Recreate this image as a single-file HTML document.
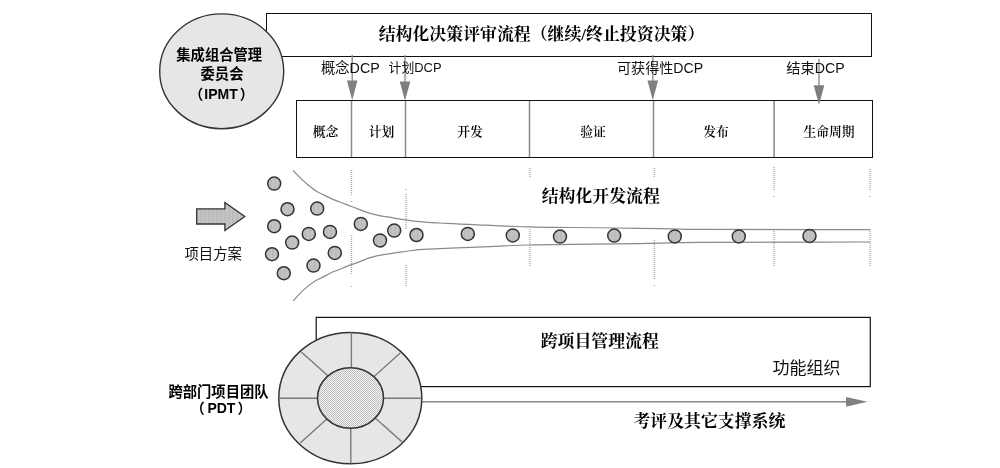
<!DOCTYPE html>
<html lang="zh-CN">
<head>
<meta charset="utf-8">
<title>IPD 流程</title>
<style>
html,body{margin:0;padding:0;background:#fff;}
body{width:1000px;height:468px;overflow:hidden;position:relative;}
svg{position:absolute;left:0;top:0;display:block;}
svg{will-change:transform;}
.bs{font-family:"Liberation Serif","Noto Serif CJK SC",serif;font-weight:bold;fill:#000;}
.bl{font-family:"Liberation Sans","Noto Sans CJK SC",sans-serif;font-weight:bold;fill:#000;}
.sn{font-family:"Liberation Sans","Noto Sans CJK SC",sans-serif;fill:#111;}
.ph{font-family:"Liberation Serif","Noto Serif CJK SC",serif;fill:#000;}
</style>
</head>
<body>
<svg width="1000" height="468" viewBox="0 0 1000 468">
<defs>
  <pattern id="hatch" width="4" height="4" patternUnits="userSpaceOnUse">
    <rect width="4" height="4" fill="#c4c4c4"/>
    <rect width="2" height="4" fill="#bbbbbb"/>
  </pattern>
  <pattern id="dots" width="2" height="2" patternUnits="userSpaceOnUse">
    <rect width="2" height="2" fill="#f4f4f4"/>
    <rect width="1" height="1" fill="#c0c0c0"/>
    <rect x="1" y="1" width="1" height="1" fill="#c0c0c0"/>
  </pattern>
  <g id="ball"><circle r="6.500" fill="url(#hatch)" stroke="#333" stroke-width="1.5"/></g>
</defs>

<!-- top box -->
<rect x="266.5" y="13.5" width="605" height="43" fill="#fff" stroke="#111" stroke-width="1"/>
<text class="bs" x="541.500" y="40.200" font-size="16.900" text-anchor="middle">结构化决策评审流程（继续/终止投资决策）</text>

<!-- IPMT circle -->
<ellipse cx="221.700" cy="71.300" rx="62" ry="57.400" fill="#e6e6e6" stroke="#333" stroke-width="1.4"/>
<text class="bl" x="219.200" y="59.500" font-size="14.300" text-anchor="middle">集成组合管理</text>
<text class="bl" x="222" y="78.500" font-size="14.300" text-anchor="middle">委员会</text>
<text class="bl" x="221.500" y="99" font-size="14" text-anchor="middle">（<tspan dx="1">IPMT</tspan><tspan dx="2">）</tspan></text>

<!-- phase box -->
<rect x="296.500" y="100.500" width="576" height="57" fill="#fff" stroke="#111" stroke-width="1"/>
<g stroke="#8a8a8a" stroke-width="1.5">
  <line x1="351.500" y1="101" x2="351.500" y2="157"/>
  <line x1="405.500" y1="101" x2="405.500" y2="157"/>
  <line x1="529.500" y1="101" x2="529.500" y2="157"/>
  <line x1="653.500" y1="101" x2="653.500" y2="157"/>
  <line x1="774.100" y1="101" x2="774.100" y2="157"/>
</g>
<g class="ph" font-size="12.800" font-weight="600" text-anchor="middle">
  <text x="325.500" y="136.100">概念</text>
  <text x="381.500" y="136.100">计划</text>
  <text x="470" y="136.100">开发</text>
  <text x="593" y="136.100">验证</text>
  <text x="716" y="136.100">发布</text>
  <text x="829" y="136.100">生命周期</text>
</g>

<!-- DCP arrows -->
<g stroke="#868686" stroke-width="1.3" fill="#7f7f7f">
  <line x1="352.2" y1="55.0" x2="352.2" y2="82.6"/>
  <path d="M346.9 80.6 L357.5 80.6 L352.2 100.3 Z" stroke="none"/>
  <line x1="405.0" y1="55.0" x2="405.0" y2="82.6"/>
  <path d="M399.7 81.600 L410.3 81.600 L405.0 100.5 Z" stroke="none"/>
  <line x1="652.8" y1="55.0" x2="652.8" y2="82.6"/>
  <path d="M647.5 80.6 L658.1 80.6 L652.8 100.3 Z" stroke="none"/>
  <line x1="819.0" y1="59.0" x2="819.0" y2="86.6"/>
  <path d="M813.7 85.2 L824.3 85.2 L819.0 105.0 Z" stroke="none"/>
</g>
<g class="sn">
  <text x="321" y="73" font-size="14.300">概念DCP</text>
  <text x="388.500" y="72" font-size="12.900">计划DCP</text>
  <text x="617" y="73" font-size="14.100">可获得性DCP</text>
  <text x="786.300" y="73.400" font-size="14.200">结束DCP</text>
</g>

<!-- dotted guides -->
<g stroke="#a6a6a6" stroke-width="1.3" stroke-dasharray="1 1" fill="none">
  <path d="M351.5 170V196M351.5 201V202M351.5 235V275M351.5 286V287"/>
  <path d="M406.0 189V190M406.0 194V229M406.0 265V287"/>
  <path d="M530.0 168V177M530.0 229V267"/>
  <path d="M654.3 168V177M654.3 240V279M654.3 285V286"/>
  <path d="M774.0 167V191M774.0 196V197M774.0 229V267"/>
  <path d="M870.0 169V191M870.0 196V197M870.0 229V267"/>
</g>

<!-- funnel -->
<g stroke="#8a8a8a" stroke-width="1.2" fill="none" stroke-linejoin="round">
  <path d="M293.0 170.4 C298.3 175.5 298.3 177.3 309.0 185.7 C319.7 194.1 314.4 190.0 325.1 195.6 C335.8 201.2 330.4 198.2 341.1 202.5 C351.8 206.8 346.4 204.7 357.1 208.6 C367.8 212.5 362.5 211.3 373.2 214.2 C383.9 217.1 378.5 215.3 389.2 217.2 C399.9 219.1 394.5 218.3 405.2 219.8 C415.9 221.3 410.6 220.7 421.3 221.7 C432.9 222.8 427.5 222.3 440.0 223.0 C460.9 224.2 454.7 223.9 484.0 225.2 C513.3 226.5 498.7 226.0 528.0 226.8 C557.3 227.6 542.7 227.1 572.0 227.5 C601.3 227.9 586.7 227.6 616.0 228.0 C645.3 228.4 632.0 228.3 660.0 228.7 C686.7 229.1 673.3 229.2 700.0 229.3 C770.0 229.6 813.3 229.6 870.0 229.7"/>
  <path d="M293.0 301.1 C297.8 296.3 297.8 294.1 307.4 286.6 C318.1 278.2 313.9 281.9 325.1 275.9 C335.8 270.2 330.4 273.1 341.1 268.7 C351.8 264.3 346.4 266.5 357.1 262.6 C368.1 258.6 363.3 259.5 374.0 256.6 C384.1 253.9 379.1 255.6 389.2 253.9 C399.6 252.2 394.5 252.9 405.2 251.5 C416.4 250.0 411.3 250.4 422.9 249.4 C434.3 248.4 428.6 249.1 440.0 248.6 C460.4 247.7 454.7 248.0 484.0 246.8 C513.3 245.6 498.7 245.8 528.0 245.0 C557.3 244.2 542.7 244.8 572.0 244.4 C601.3 244.0 586.7 244.3 616.0 243.9 C645.3 243.5 632.0 243.6 660.0 243.1 C686.7 242.6 673.3 242.5 700.0 242.4 C770.0 242.0 813.3 242.1 870.0 242.0"/>
</g>
<text class="bs" x="600.800" y="202.300" font-size="16.900" text-anchor="middle">结构化开发流程</text>

<!-- block arrow -->
<path d="M196.700 208.900 H224.900 V202.400 L244.800 216.500 L224.900 230.600 V224 H196.700 Z" fill="url(#hatch)" stroke="#333" stroke-width="1.300" stroke-linejoin="miter"/>
<text class="sn" x="213.200" y="259" font-size="14.400" text-anchor="middle">项目方案</text>

<!-- balls -->
<use href="#ball" x="274.200" y="183.6"/>
<use href="#ball" x="287.500" y="209.2"/>
<use href="#ball" x="317.200" y="208.6"/>
<use href="#ball" x="274.200" y="226.2"/>
<use href="#ball" x="308.800" y="233.9"/>
<use href="#ball" x="330" y="231.9"/>
<use href="#ball" x="292.200" y="242.6"/>
<use href="#ball" x="272" y="254.2"/>
<use href="#ball" x="334.800" y="252.9"/>
<use href="#ball" x="313.500" y="265.6"/>
<use href="#ball" x="283.800" y="273.2"/>
<use href="#ball" x="360.800" y="223.9"/>
<use href="#ball" x="380" y="240.4"/>
<use href="#ball" x="394.200" y="230.6"/>
<use href="#ball" x="416.500" y="235.0"/>
<use href="#ball" x="467.800" y="233.9"/>
<use href="#ball" x="512.800" y="235.4"/>
<use href="#ball" x="560" y="236.6"/>
<use href="#ball" x="614.200" y="235.6"/>
<use href="#ball" x="674.800" y="236.4"/>
<use href="#ball" x="738.800" y="236.4"/>
<use href="#ball" x="809.500" y="235.9"/>

<!-- bottom box -->
<rect x="316.200" y="317.400" width="554.100" height="69.200" fill="#fff" stroke="#111" stroke-width="1.2"/>
<text class="bs" x="599.800" y="347" font-size="16.900" text-anchor="middle">跨项目管理流程</text>
<text class="sn" x="806.600" y="374.300" font-size="17" text-anchor="middle">功能组织</text>

<!-- support arrow -->
<line x1="422" y1="401.700" x2="848" y2="401.700" stroke="#888" stroke-width="1.5"/>
<path d="M846 397 L867.500 401.700 L846 406.700 Z" fill="#808080"/>
<text class="bs" x="709.400" y="427" font-size="16.900" text-anchor="middle">考评及其它支撑系统</text>

<!-- PDT wheel -->
<ellipse cx="350.300" cy="398.100" rx="71.500" ry="65.700" fill="#e6e6e6" stroke="#333" stroke-width="1.500"/>
<g stroke="#7a7a7a" stroke-width="1.400">
  <line x1="351.400" y1="332.500" x2="351.400" y2="398"/>
  <line x1="350.800" y1="398" x2="350.800" y2="463.500"/>
  <line x1="279" y1="398.200" x2="421.700" y2="398.200"/>
  <line x1="301.300" y1="352" x2="402.200" y2="442.100"/>
  <line x1="400.200" y1="353" x2="300.200" y2="443"/>
</g>
<ellipse cx="350.500" cy="398" rx="33" ry="30.300" fill="url(#dots)" stroke="#333" stroke-width="1.500"/>
<text class="bl" x="218.500" y="396.500" font-size="14.300" text-anchor="middle">跨部门项目团队</text>
<text class="bl" x="221.100" y="413" font-size="14" text-anchor="middle">（<tspan dx="2.700">PDT</tspan><tspan dx="2.100">）</tspan></text>
</svg>
</body>
</html>
